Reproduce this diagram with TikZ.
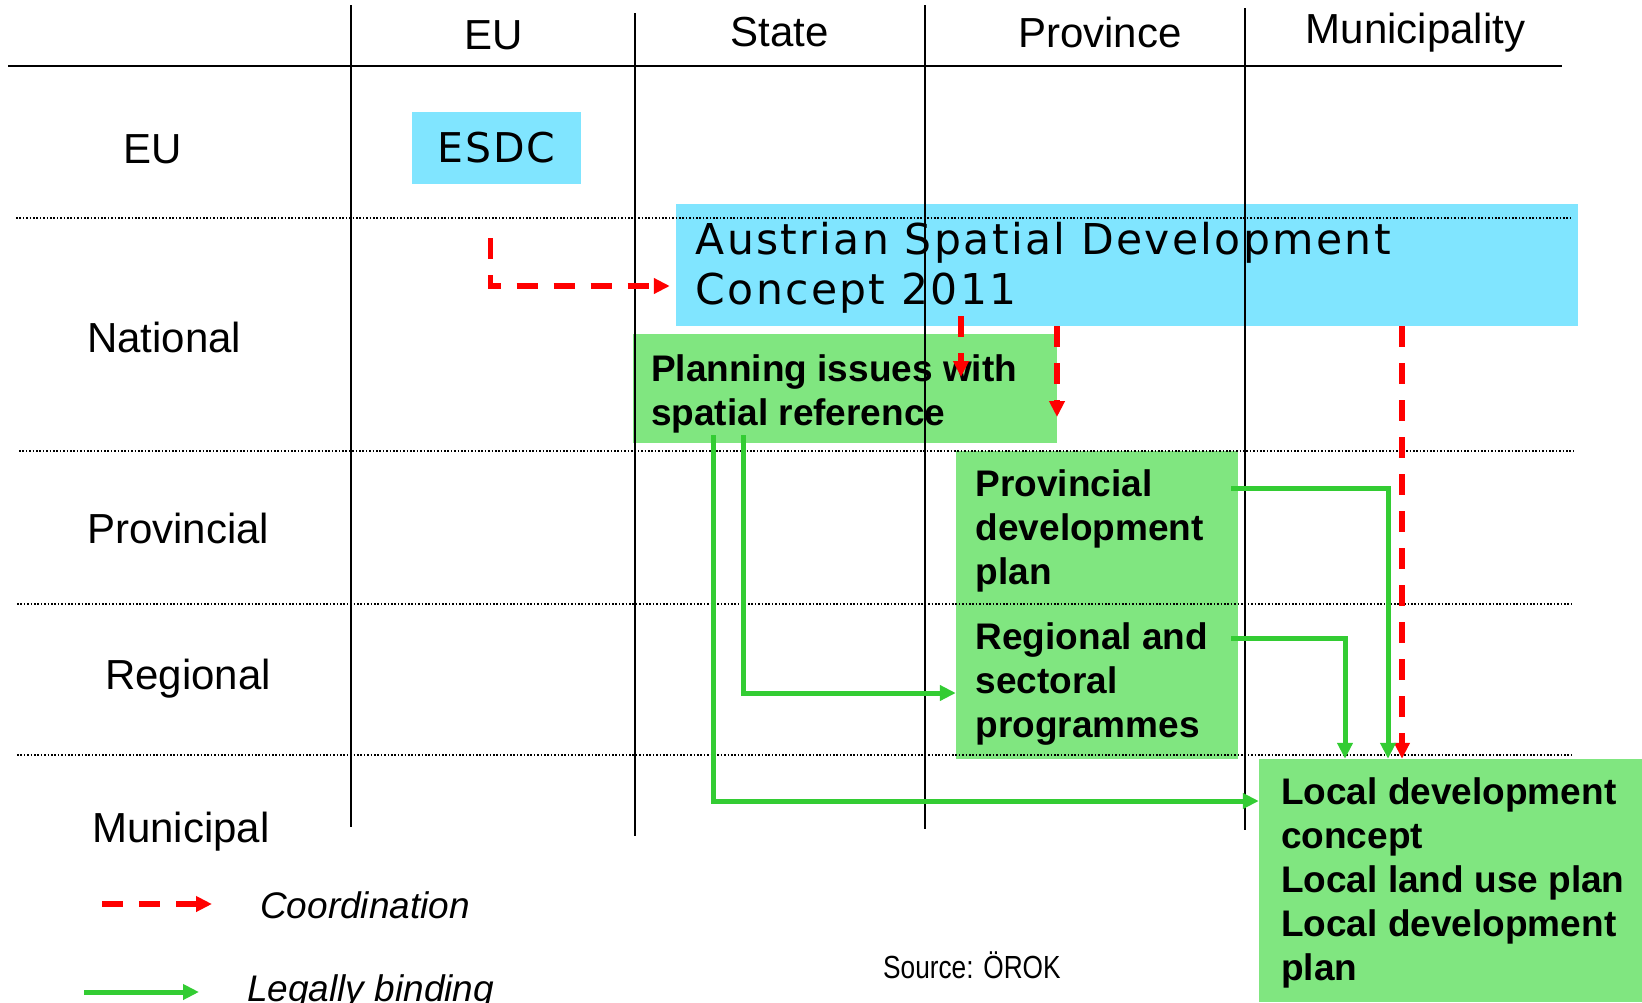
\documentclass[tikz,border=0pt]{standalone}
\usepackage{fontspec}
\setmainfont{Liberation Sans}
\newfontfamily\spacedfont[LetterSpace=5.5]{DejaVu Sans}
\newfontfamily\esdcfont[LetterSpace=4]{DejaVu Sans}
\newfontfamily\narrowfont[FakeStretch=0.82]{Liberation Sans}
\usetikzlibrary{arrows.meta}

\definecolor{planblue}{RGB}{128,229,255}
\definecolor{plangreen}{RGB}{128,230,128}
\definecolor{bindgreen}{RGB}{51,204,51}
\definecolor{coordred}{RGB}{255,0,0}

\begin{document}
\begin{tikzpicture}[x=1pt,y=-1pt,
  box/.style={rectangle, inner sep=0pt, draw=none},
  bluebox/.style={box, fill=planblue},
  greenbox/.style={box, fill=plangreen},
  gridline/.style={line width=2pt, black},
  dotline/.style={line width=1.6pt, dash pattern=on 1.6pt off 1.8pt, black},
  coordarrow/.style={draw=coordred, line width=5.2pt, dash pattern=on 21pt off 16pt,
    -{Triangle[length=16pt,width=15pt]}},
  legalarrow/.style={draw=bindgreen, line width=5pt,
    -{Triangle[length=16pt,width=15pt]}},
  rowlabel/.style={anchor=base west, inner sep=0pt, font=\fontsize{42}{50}\selectfont},
  colhead/.style={anchor=base, inner sep=0pt, font=\fontsize{42}{50}\selectfont},
  boldtext/.style={anchor=north west, inner sep=0pt, align=left,
    font=\fontsize{37}{44}\selectfont\bfseries},
  legendtext/.style={anchor=base west, inner sep=0pt,
    font=\fontsize{37}{44}\selectfont\itshape},
]
\useasboundingbox (0,0) rectangle (1642,1002);

% ---- boxes -------------------------------------------------------------
\node[bluebox, minimum width=169pt, minimum height=72pt,
      font=\esdcfont\fontsize{41}{50}\selectfont] (esdc) at (496.5,148) {ESDC};
\node[bluebox, minimum width=902pt, minimum height=122pt] (aus) at (1127,265) {};
\node[greenbox, minimum width=424pt, minimum height=109pt] (plan) at (845,388.5) {};
\node[greenbox, minimum width=282pt, minimum height=153pt] (prov) at (1097,527.5) {};
\node[greenbox, minimum width=282pt, minimum height=155pt] (reg) at (1097,681.5) {};
\node[greenbox, minimum width=383pt, minimum height=243pt] (local) at (1450.5,880.5) {};

% ---- box texts ---------------------------------------------------------
\node[anchor=north west, inner sep=0pt, align=left,
      font=\spacedfont\fontsize{42.5}{50}\selectfont] (austext) at (695.5,218)
  {\rule{0pt}{36pt}Austrian Spatial Development\\Concept 2011};
\node[boldtext] (plantext) at (651,351)
  {\rule{0pt}{30pt}Planning issues with\\spatial reference};
\node[boldtext] (provtext) at (975.5,466)
  {\rule{0pt}{30pt}Provincial\\development\\plan};
\node[boldtext] (regtext) at (975.5,619)
  {\rule{0pt}{30pt}Regional and\\sectoral\\programmes};
\node[boldtext] (localtext) at (1281,774)
  {\rule{0pt}{30pt}Local development\\concept\\Local land use plan\\Local development\\plan};

% ---- column heads and row labels --------------------------------------
\node[colhead] (hEU) at (494,49) {EU};
\node[colhead] (hState) at (779.5,46) {State};
\node[colhead] (hProv) at (1100,47) {Province};
\node[colhead] (hMun) at (1415.5,43) {Municipality};

\node[rowlabel] (rEU) at (123,163) {EU};
\node[rowlabel] (rNat) at (87,352.5) {National};
\node[rowlabel] (rProv) at (87,543) {Provincial};
\node[rowlabel] (rReg) at (105,689) {Regional};
\node[rowlabel] (rMun) at (92,842) {Municipal};

% ---- grid ----------------------------------------------------------------
\draw[gridline] (8,66) -- (1562,66);
\draw[gridline] (351,5) -- (351,827);
\draw[gridline] (635,13) -- (635,836);
\draw[gridline] (925,5) -- (925,829);
\draw[gridline] (1245,8) -- (1245,830);
\draw[dotline] (16,218) -- (1571,218);
\draw[dotline] (19,451) -- (1573,451);
\draw[dotline] (17,604) -- (1572,604);
\draw[dotline] (17,755) -- (1572,755);

% ---- coordination (red dashed) ----------------------------------------
\coordinate (r1s) at (490.6,238);
\coordinate (r1turn) at (490.6,286);
\draw[coordarrow, shorten >=6pt] (r1s) -- (r1turn) -- (r1turn -| aus.west);

\coordinate (r2s) at (961,316);
\coordinate (r2e) at (961,377);
\draw[coordarrow] (r2s) -- (r2e);

\coordinate (r3e) at (1057,417);
\draw[coordarrow] (aus.south -| r3e) -- (r3e);

\coordinate (r4x) at (1402,500);
\draw[coordarrow] (aus.south -| r4x) -- (local.north -| r4x);

% ---- legally binding (green) -------------------------------------------
\coordinate (g1s) at (713,435);
\coordinate (g1turn) at (713,801);
\draw[legalarrow] (g1s) -- (g1turn) -- (g1turn -| local.west);

\coordinate (g2s) at (743,435);
\coordinate (g2turn) at (743,693);
\draw[legalarrow] (g2s) -- (g2turn) -- (g2turn -| reg.west);

\coordinate (g3s) at (1231,488);
\coordinate (g3turn) at (1388,488);
\draw[legalarrow] (g3s) -- (g3turn) -- (g3turn |- local.north);

\coordinate (g4s) at (1231,638);
\coordinate (g4turn) at (1345,638);
\draw[legalarrow] (g4s) -- (g4turn) -- (g4turn |- local.north);

% ---- legend ------------------------------------------------------------
\coordinate (lr1) at (102,904);
\coordinate (lr2) at (212,904);
\draw[coordarrow] (lr1) -- (lr2);
\node[legendtext] (lcoord) at (260,918) {Coordination};

\coordinate (lg1) at (84,992);
\coordinate (lg2) at (199,992);
\draw[legalarrow] (lg1) -- (lg2);
\node[legendtext] (llegal) at (247,1001) {Legally binding};

\node[anchor=base west, inner sep=0pt, font=\narrowfont\fontsize{32}{38}\selectfont]
  (source) at (883,978) {Source: ÖROK};
\end{tikzpicture}
\end{document}
